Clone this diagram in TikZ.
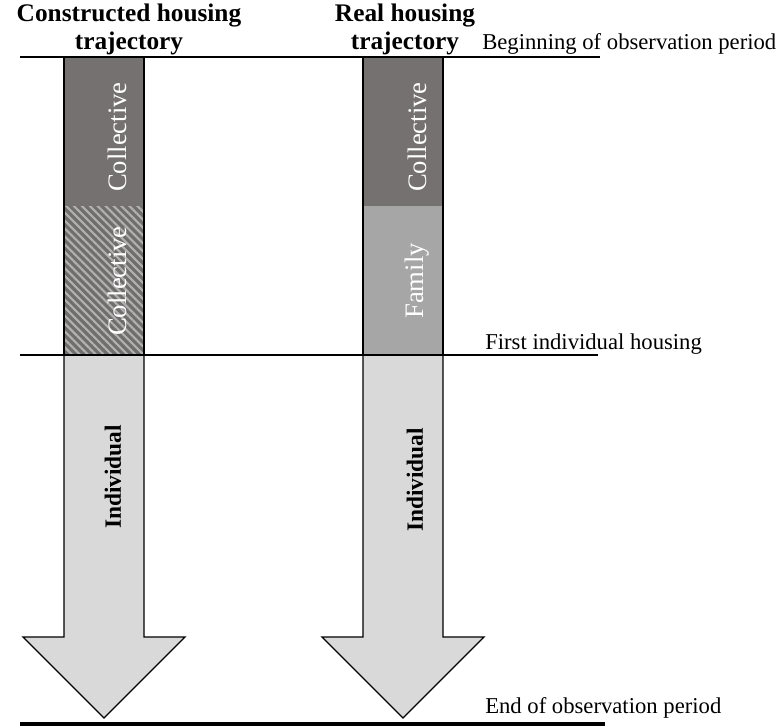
\documentclass[tikz,border=0pt]{standalone}
\usepackage{fontspec}
\setmainfont{Liberation Serif}
\usetikzlibrary{patterns.meta}
\definecolor{collgrey}{RGB}{117,113,113}
\definecolor{hatchgrey}{RGB}{112,109,109}
\definecolor{stripegrey}{RGB}{178,176,176}
\definecolor{famgrey}{RGB}{166,166,166}
\definecolor{indgrey}{RGB}{217,217,217}

\begin{document}
\begin{tikzpicture}[x=0.75pt,y=0.75pt,
  headline/.style={font=\bfseries\fontsize{19}{19}\selectfont,align=center,inner sep=0pt},
  period/.style={font=\fontsize{17}{18}\selectfont,anchor=west,inner sep=0pt},
  inbar/.style={rotate=90,text=white,font=\fontsize{20}{18}\selectfont,inner sep=0pt},
  indlabel/.style={rotate=90,text=black,font=\bfseries\fontsize{17.5}{18}\selectfont,inner sep=0pt},
  arrowbar/.style={draw=black,line width=1pt,line join=miter,fill=indgrey}]
\useasboundingbox (0,0) rectangle (776,-726);
% constructed trajectory
\begin{scope}
\fill[collgrey] (64,-57) rectangle (144,-206);
\fill[hatchgrey] (64,-206) rectangle (144,-355);
\fill[pattern={Lines[angle=-45,distance=4.2pt,line width=1.6pt]},pattern color=stripegrey] (64,-206) rectangle (144,-355);
\draw[line width=1.2pt] (64,-57) -- (64,-355) (144,-57) -- (144,-355);
\draw[arrowbar] (64,-355) -- (64,-637) -- (23,-637) -- (104,-718) -- (185,-637) -- (144,-637) -- (144,-355);
\node[inbar] (col1) at (117,-137) {Collective};
\node[inbar] (col2) at (117,-281) {Collective};
\node[indlabel] (ind1) at (113,-477) {Individual};
\end{scope}
% real trajectory
\begin{scope}
\fill[collgrey] (363,-57) rectangle (443,-206);
\fill[famgrey] (363,-206) rectangle (443,-355);
\draw[line width=1.2pt] (363,-57) -- (363,-355) (443,-57) -- (443,-355);
\draw[arrowbar] (363,-355) -- (363,-637) -- (322,-637) -- (403,-718) -- (484,-637) -- (443,-637) -- (443,-355);
\node[inbar] (col3) at (417,-137) {Collective};
\node[inbar] (fam) at (417,-281) {Family};
\node[indlabel] (ind2) at (415,-480) {Individual};
\end{scope}
% time lines
\draw[line width=2.2pt] (20,-57) -- (600,-57);
\draw[line width=2pt] (20,-355) -- (598,-355);
\draw[line width=2.6pt] (20,-724) -- (605,-724);
\node[headline] (con) at (129,-29) {Constructed housing\\[2pt]trajectory};
\node[headline] (real) at (405,-29) {Real housing\\[2pt]trajectory};
\node[period] (begin) at (482,-44) {Beginning of observation period};
\node[period] (first) at (485,-344) {First individual housing};
\node[period] (end) at (485,-708) {End of observation period};
\end{tikzpicture}
\end{document}
